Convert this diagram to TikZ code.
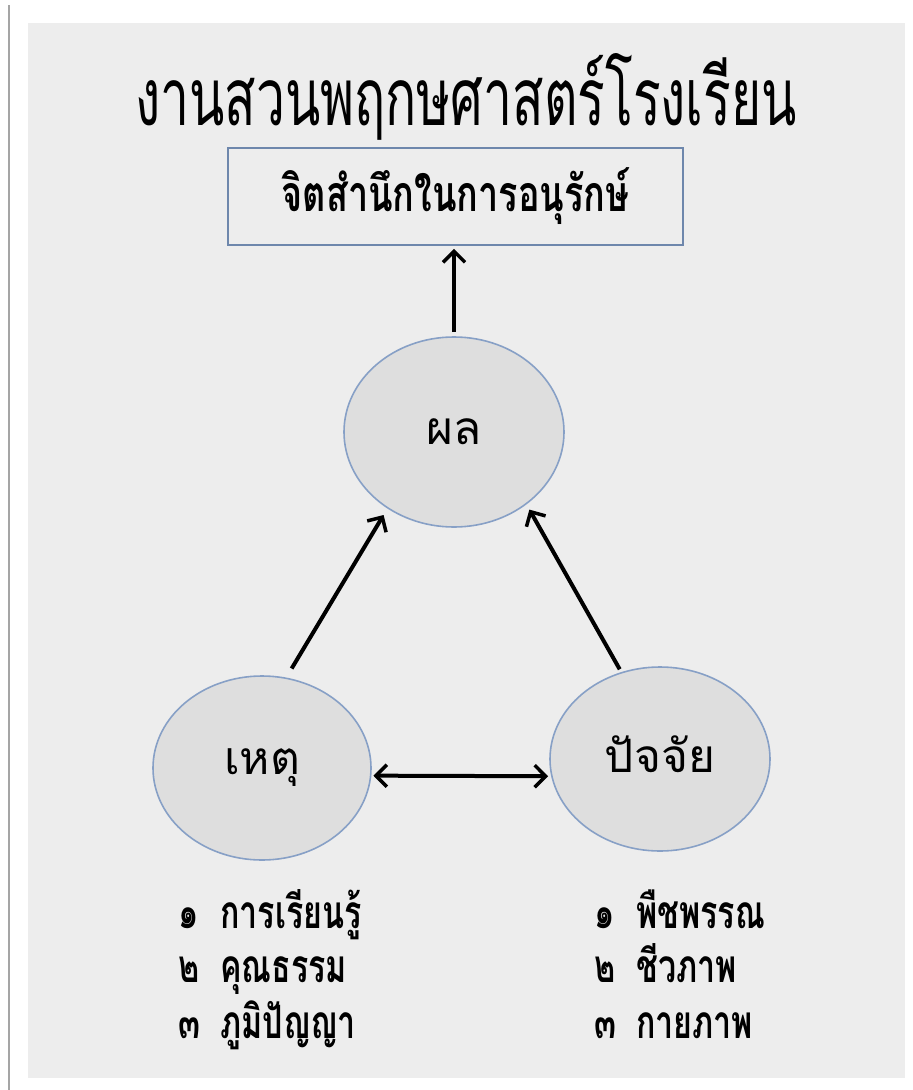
\documentclass[tikz,border=0pt]{standalone}
\usepackage{fontspec}
\usetikzlibrary{shapes.geometric,arrows.meta}
\newfontfamily\thaititle[Script=Thai,FakeStretch=0.645]{Loma}
\newfontfamily\thaicond[Script=Thai,FakeStretch=0.72]{Loma}
\newfontfamily\thailist[Script=Thai,FakeStretch=0.70]{Loma}
\newfontfamily\thaisans[Script=Thai]{Loma}
\definecolor{bg}{RGB}{237,237,237}
\definecolor{ellfill}{RGB}{222,222,222}
\definecolor{ellline}{RGB}{135,160,198}
\definecolor{boxline}{RGB}{110,135,172}
\definecolor{edgegray}{RGB}{165,165,165}
\tikzset{
  titletext/.style={font=\thaititle\fontsize{80}{90}\selectfont, inner sep=0pt},
  goalbox/.style={draw=boxline, line width=1.6pt, fill=bg, minimum width=455pt, minimum height=97pt, inner sep=0pt,
    font=\thaicond\bfseries\fontsize{50}{56}\selectfont},
  bubble/.style={ellipse, draw=ellline, line width=1.6pt, fill=ellfill, inner sep=0pt,
    font=\thaisans\fontsize{46}{52}\selectfont},
  arr/.style={draw=black, line width=4pt, -{Straight Barb[length=11pt,width=22pt,line width=3.5pt]}},
  darr/.style={draw=black, line width=4pt, {Straight Barb[length=11pt,width=22pt,line width=3.5pt]}-{Straight Barb[length=11pt,width=22pt,line width=3.5pt]}},
  listitem/.style={anchor=base west, inner sep=0pt, font=\thailist\bfseries\fontsize{46}{50}\selectfont}
}
\begin{document}
\begin{tikzpicture}[x=1pt,y=-1pt]
\useasboundingbox (0,0) rectangle (913,1090);
\fill[white] (0,0) rectangle (913,1090);
\fill[bg] (28,23) rectangle (905,1078);
\draw[edgegray, line width=2pt] (9,5) -- (9,1090);

\node[titletext, anchor=base] (title) at (466,125) {งานสวนพฤกษศาสตร์โรงเรียน};
\node[goalbox] (goal) at (455.5,196.5) {\raisebox{2pt}{จิตสำนึกในการอนุรักษ์}};

\node[bubble, minimum width=220pt, minimum height=190pt] (result) at (454,432) {ผล};
\node[bubble, minimum width=218pt, minimum height=184pt] (cause) at (262,768) {เหตุ};
\node[bubble, minimum width=220pt, minimum height=184pt] (factor) at (660,759) {\raisebox{9pt}{ปัจจัย}};

\draw[arr, shorten <=4pt, shorten >=3pt] (result.north) -- (result.north |- goal.south);
\draw[arr, shorten <=10.5pt, shorten >=7.5pt] (cause.75.3) -- (result.229.6);
\draw[arr, shorten <=3.2pt, shorten >=5.9pt] (factor.114) -- (result.315.9);
\draw[darr, shorten <=2pt, shorten >=3pt] (cause.-4) -- (factor.189);

\node[listitem] (c1) at (178,928) {\makebox[42pt][l]{๑}การเรียนรู้};
\node[listitem] (c2) at (178,982) {\makebox[42pt][l]{๒}คุณธรรม};
\node[listitem] (c3) at (178,1038) {\makebox[42pt][l]{๓}ภูมิปัญญา};
\node[listitem] (f1) at (594,928) {\makebox[42pt][l]{๑}พืชพรรณ};
\node[listitem] (f2) at (594,982) {\makebox[42pt][l]{๒}ชีวภาพ};
\node[listitem] (f3) at (594,1038) {\makebox[42pt][l]{๓}กายภาพ};
\end{tikzpicture}
\end{document}
